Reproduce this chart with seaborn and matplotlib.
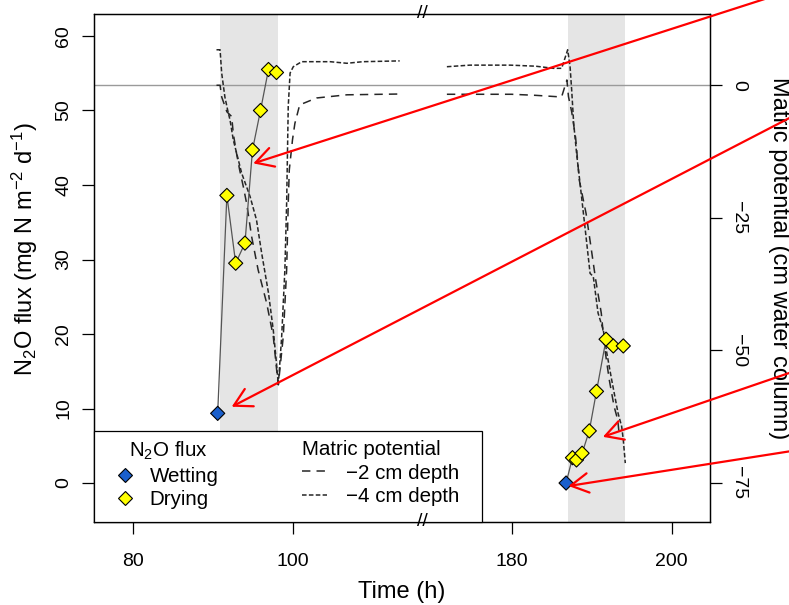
import numpy as np
import pandas as pd
import matplotlib
matplotlib.use("Agg")
import matplotlib.pyplot as plt
import matplotlib.transforms as mtransforms
from matplotlib.lines import Line2D
from matplotlib.patches import Rectangle
import seaborn as sns

# ---------------- data (time in hours) ----------------
wet_t = [90.55, 186.8]
wet_flux = [9.35, 0.0]

dry_left_t = [91.7, 92.8, 93.96, 94.9, 95.9, 96.9, 97.9]
dry_left_flux = [38.6, 29.5, 32.2, 44.7, 50.0, 55.5, 55.1]
dry_right_t = [187.6, 188.1, 188.8, 189.7, 190.6, 191.8, 192.7, 193.95]
dry_right_flux = [3.4, 3.1, 4.0, 7.0, 12.3, 19.3, 18.4, 18.4]

# matric potential, -4 cm depth
mp4_left_t = [90.4, 90.85, 91.05, 91.45, 91.8, 92.1, 92.5, 93.55, 94.6, 95.4, 96.05,
              96.9, 97.5, 97.9, 98.13, 98.55, 98.95, 99.17, 99.37, 99.6, 100.0, 101.05,
              104.6, 106.7, 108.7, 113.3]
mp4_left = [6.7, 6.7, 2.3, -2.2, -4.7, -6.6, -10.3, -16.6, -21.0, -25.4, -31.7,
            -39.2, -46.2, -52.5, -56.5, -47.4, -34.8, -22.3, -4.0, 2.3, 3.5, 4.45,
            4.45, 4.15, 4.45, 4.6]
mp4_right_t = [171.9, 174.8, 179.8, 183.0, 185.2, 186.25, 187.0, 187.3, 187.5, 187.75,
               188.15, 188.5, 189.2, 189.8, 190.2, 190.8, 191.45, 191.9, 192.5, 193.3,
               193.75, 193.95, 194.2]
mp4_right = [3.5, 3.8, 3.8, 3.6, 3.2, 3.2, 6.7, 3.5, -0.9, -7.2,
             -13.4, -17.9, -27.3, -35.5, -36.1, -43.0, -46.2, -50.6, -55.6, -61.9,
             -64.4, -66.9, -71.3]
# matric potential, -2 cm depth
mp2_left_t = [90.4, 90.85, 91.05, 91.7, 92.3, 92.5, 92.9, 93.3, 93.75, 94.17, 94.8,
              95.6, 96.67, 97.5, 97.92, 98.13, 98.75, 99.17, 99.37, 99.5, 99.9, 100.2,
              100.8, 102.9, 106.7, 113.3]
mp2_left = [0.0, 0.0, -2.2, -5.0, -5.9, -9.1, -12.8, -16.0, -19.1, -22.3, -28.6,
            -34.8, -41.1, -47.4, -53.7, -56.5, -47.4, -34.8, -22.3, -16.0, -10.3, -7.2,
            -3.7, -2.4, -1.8, -1.65]
mp2_right_t = [171.9, 176.0, 180.0, 183.0, 185.6, 186.25, 186.9, 187.1, 187.5, 188.0,
               188.45, 189.3, 189.9, 190.5, 191.2, 191.6, 192.2, 192.8, 193.25, 193.45]
mp2_right = [-1.7, -1.7, -1.7, -1.9, -2.15, -2.15, 1.0, -2.15, -5.0, -10.0,
             -17.9, -24.2, -30.4, -36.7, -43.0, -49.3, -55.6, -60.6, -63.1, -66.0]

band_start = [90.9, 187.1]
band_end = [98.05, 194.2]

xtick_hours = [80, 100, 180, 200]
xtick_labels = ["80", "100", "180", "200"]
flux_ticks = [0, 10, 20, 30, 40, 50, 60]
mp_ticks = [0, -25, -50, -75]

arrow_tip_t = [95.0, 92.3, 191.4, 187.1]
arrow_tip_flux = [42.9, 10.24, 6.2, -0.4]
arrow_start_px = [(830, 627), (830, 508), (830, 246), (830, 160)]  # figure pixels

# ---------------- broken time axis ----------------
BREAK_SHIFT = 52.7
BREAK_AT = 116.1


def to_plot(t):
    t = np.asarray(t, dtype=float)
    return np.where(t > 140, t - BREAK_SHIFT, t)


flux_df = pd.DataFrame({
    "t": wet_t[:1] + dry_left_t + wet_t[1:] + dry_right_t,
    "flux": wet_flux[:1] + dry_left_flux + wet_flux[1:] + dry_right_flux,
    "phase": ["Wetting"] + ["Drying"] * len(dry_left_t) + ["Wetting"] + ["Drying"] * len(dry_right_t),
    "event": [0] * (1 + len(dry_left_t)) + [1] * (1 + len(dry_right_t)),
})
flux_df["x"] = to_plot(flux_df["t"])

rows = []
for seg, (depth, tt, vv) in enumerate([
        ("\u22124 cm depth", mp4_left_t, mp4_left),
        ("\u22124 cm depth", mp4_right_t, mp4_right),
        ("\u22122 cm depth", mp2_left_t, mp2_left),
        ("\u22122 cm depth", mp2_right_t, mp2_right)]):
    for a, b in zip(tt, vv):
        rows.append({"t": a, "mp": b, "depth": depth, "seg": seg})
mp_df = pd.DataFrame(rows)
mp_df["x"] = to_plot(mp_df["t"])

# ---------------- style ----------------
sns.set_theme(style="ticks")
plt.rcParams["font.family"] = ["Liberation Sans", "DejaVu Sans"]
plt.rcParams.update({
    "mathtext.fontset": "custom",
    "mathtext.rm": "Liberation Sans",
    "mathtext.it": "Liberation Sans:italic",
    "mathtext.bf": "Liberation Sans:bold",
    "axes.linewidth": 0.9,
    "axes.edgecolor": "black",
    "xtick.color": "black",
    "ytick.color": "black",
    "text.color": "black",
    "axes.labelcolor": "black",
})

W, H = 789, 605
fig = plt.figure(figsize=(W / 100, H / 100), dpi=100)
L, R, T, B = 94, 710, 14, 522
ax = fig.add_axes([L / W, (H - B) / H, (R - L) / W, (B - T) / H])
ax2 = ax.twinx()
ax.set_zorder(ax2.get_zorder() + 1)
ax.patch.set_visible(False)

blue = "#1a5fcc"
yellow = "#ffff00"
line_col = "#262626"

# shaded drying periods and zero line (matric axis, bottom layer)
for s, e in zip(band_start, band_end):
    ax2.axvspan(float(to_plot(s)), float(to_plot(e)), color="#e5e5e5", lw=0, zorder=0)
ax2.axhline(0, color="#9a9a9a", lw=1.0, zorder=1)

dash_map = {"\u22122 cm depth": (5.5, 4), "\u22124 cm depth": (3, 1.5)}
sns.lineplot(data=mp_df, x="x", y="mp", style="depth", units="seg", estimator=None,
             dashes=dash_map, color=line_col, lw=1.1, sort=False, legend=False, ax=ax2)

# flux
sns.lineplot(data=flux_df, x="x", y="flux", units="event", estimator=None,
             color="#555555", lw=0.9, sort=False, legend=False, ax=ax)
sns.scatterplot(data=flux_df, x="x", y="flux", hue="phase",
                palette={"Wetting": blue, "Drying": yellow}, marker="D", s=52,
                edgecolor="black", linewidth=0.8, legend=False, ax=ax, zorder=3)

# axes limits / ticks
ax.set_xlim(75.09, 152.09)
ax.set_ylim(-5.23, 62.95)
ax2.set_ylim(-82.42, 13.45)
ax.set_xticks(to_plot(xtick_hours))
ax.set_xticklabels(xtick_labels)
ax.set_yticks(flux_ticks)
ax.set_yticklabels([str(v) for v in flux_ticks])
ax2.set_yticks(mp_ticks)
ax2.set_yticklabels([("\u2212" + str(-v)) if v < 0 else str(v) for v in mp_ticks])

ax.tick_params(axis="x", length=8.6, width=0.9, labelsize=14, pad=14)
ax.tick_params(axis="y", length=8.6, width=0.9, labelsize=14, pad=7, labelrotation=90)
ax2.tick_params(axis="y", length=8.6, width=0.9, labelsize=14, pad=6, labelrotation=270)
for lab in ax.get_yticklabels():
    lab.set_va("center")
for lab in ax2.get_yticklabels():
    lab.set_va("center")

ax.set_xlabel("Time (h)", fontsize=17, va="center")
ax.xaxis.set_label_coords(0.5, (B - 592) / (B - T))
ax.set_ylabel(r"N$_\mathregular{2}$O flux (mg N m$^\mathregular{-2}$ d$^\mathregular{-1}$)",
              fontsize=17, va="center")
ax.yaxis.set_label_coords((25 - L) / (R - L), (B - 249) / (B - T))
ax2.set_ylabel("Matric potential (cm water column)", fontsize=17, rotation=270, va="center")
ax2.yaxis.set_label_coords((779 - L) / (R - L), (B - 258) / (B - T))

# axis break marks
bt = mtransforms.blended_transform_factory(ax.transData, ax.transAxes)
for yy in (0.0, 1.0):
    ax.text(BREAK_AT, yy, "//", transform=bt, ha="center", va="center",
            fontsize=14, clip_on=False, zorder=7)

# legend
LEG_FS = 14.8
ax.add_patch(Rectangle((0, 0), (481.7 - L) / (R - L), (B - 431) / (B - T),
                       transform=ax.transAxes, facecolor="white", edgecolor="black",
                       lw=0.9, zorder=4, clip_on=False))
h1 = [Line2D([], [], ls="none", marker="D", ms=7.2, mfc=blue, mec="black", mew=0.8),
      Line2D([], [], ls="none", marker="D", ms=7.2, mfc=yellow, mec="black", mew=0.8)]
leg1 = ax.legend(h1, ["Wetting", "Drying"], title=r"N$_\mathregular{2}$O flux",
                 loc="upper left", bbox_to_anchor=(118 / W, (H - 440) / H),
                 bbox_transform=fig.transFigure, frameon=False, fontsize=LEG_FS,
                 title_fontsize=LEG_FS, handlelength=0.68, handletextpad=0.87,
                 labelspacing=0.22, borderpad=0, borderaxespad=0)
leg1.set_zorder(6)
ax.add_artist(leg1)
h2 = [Line2D([], [], color=line_col, lw=1.1, dashes=dash_map["\u22122 cm depth"]),
      Line2D([], [], color=line_col, lw=1.1, dashes=dash_map["\u22124 cm depth"])]
leg2 = ax.legend(h2, ["\u22122 cm depth", "\u22124 cm depth"], title="Matric potential",
                 alignment="left", loc="upper left",
                 bbox_to_anchor=(302 / W, (H - 440) / H),
                 bbox_transform=fig.transFigure, frameon=False, fontsize=LEG_FS,
                 title_fontsize=LEG_FS, handlelength=1.21, handletextpad=0.95,
                 labelspacing=0.22, borderpad=0, borderaxespad=0)
leg2.set_zorder(6)

# red arrows
for tt, ff, (sx, sy) in zip(arrow_tip_t, arrow_tip_flux, arrow_start_px):
    ax.annotate("", xy=(float(to_plot(tt)), ff), xycoords="data",
                xytext=(sx, sy), textcoords="figure pixels",
                arrowprops=dict(arrowstyle="->,head_length=0.63,head_width=0.35",
                                color="red", lw=1.6, shrinkA=0, shrinkB=0,
                                mutation_scale=20),
                annotation_clip=False, zorder=10)

fig.savefig("out.png", dpi=100)
